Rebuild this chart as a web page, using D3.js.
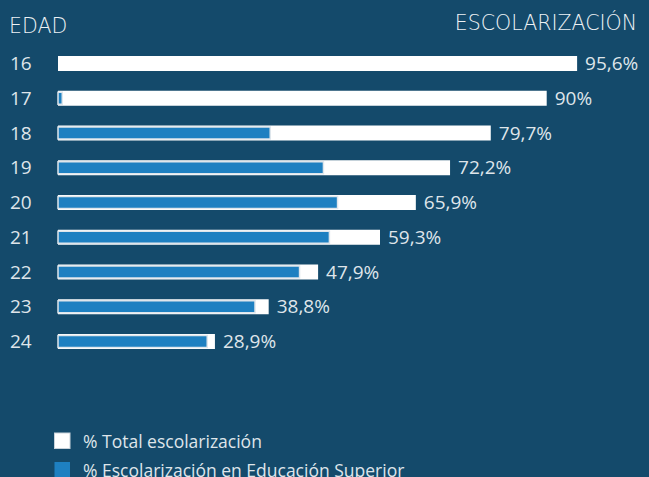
<!DOCTYPE html>
<html>
<head>
<meta charset="utf-8">
<script src="https://cdn.jsdelivr.net/npm/d3@7"></script>
<style>
body{margin:0;padding:0;background:#144a6b;}
svg{display:block;}
</style>
</head>
<body>
<div></div>
<script>
let ages = ["16","17","18","19","20","21","22","23","24"];
let totalValues = [95.6, 90, 79.7, 72.2, 65.9, 59.3, 47.9, 38.8, 28.9];
let superiorValues = [0, 0.6, 38.9, 48.7, 51.3, 49.8, 44.3, 36.1, 27.3];
let totalLabels = ["95,6%","90%","79,7%","72,2%","65,9%","59,3%","47,9%","38,8%","28,9%"];
let legendNames = ["% Total escolarización","% Escolarización en Educación Superior"];

let svgWidth = 649;
let svgHeight = 477;
let bgColor = "#144a6b";
let blueColor = "#1e80c1";
let textColor = "#dfe5ea";
let barHeight = 15;
let titleFont = "'DejaVu Sans', sans-serif";
let labelFont = "'Open Sans', sans-serif";

let svg = d3.select("body div")
    .append("svg")
    .attr("width", svgWidth)
    .attr("height", svgHeight);

// escala horizontal (porcentaje) y vertical (edad)
let x = d3.scaleLinear().domain([0, 100]).range([58, 601]);
let y = d3.scalePoint().domain(ages).range([63.5, 341.5]);

function init()
{
	svg.append("rect")
	    .attr("width", svgWidth)
	    .attr("height", svgHeight)
	    .attr("fill", bgColor);

	// titulos
	svg.append("text")
	    .attr("x", 9)
	    .attr("y", 32.8)
	    .attr("font-family", titleFont)
	    .attr("font-weight", 200)
	    .attr("font-size", 20.5)
	    .attr("fill", "#eef2f5")
	    .text("EDAD");
	svg.append("text")
	    .attr("x", 637)
	    .attr("y", 29.5)
	    .attr("text-anchor", "end")
	    .attr("font-family", titleFont)
	    .attr("font-weight", 200)
	    .attr("font-size", 20.5)
	    .attr("fill", "#eef2f5")
	    .text("ESCOLARIZACIÓN");

	drawBars();
	drawLegend();
}

function drawBars()
{
	let rows = ages.map(function(a, i){
		return {age:a, total:totalValues[i], sup:superiorValues[i], label:totalLabels[i]};
	});

	let g = svg.selectAll("g.row")
	    .data(rows)
	    .enter()
	    .append("g")
	    .attr("class", "row");

	// edad
	g.append("text")
	    .attr("x", 10)
	    .attr("y", function(d){ return y(d.age) + 6.5; })
	    .attr("font-family", labelFont)
	    .attr("font-size", 19)
	    .attr("fill", textColor)
	    .text(function(d){ return d.age; });

	// barra blanca: total
	g.append("rect")
	    .attr("x", x(0))
	    .attr("y", function(d){ return y(d.age) - barHeight/2; })
	    .attr("width", function(d){ return x(d.total) - x(0); })
	    .attr("height", barHeight)
	    .attr("fill", "#ffffff");

	// barra azul: educacion superior
	g.filter(function(d){ return d.sup > 0; })
	    .append("rect")
	    .attr("x", x(0))
	    .attr("y", function(d){ return y(d.age) - barHeight/2 + 1.5; })
	    .attr("width", function(d){ return x(d.sup) - x(0) + 1; })
	    .attr("height", barHeight - 3)
	    .attr("fill", blueColor)
	    .attr("stroke", "#dfe6ec")
	    .attr("stroke-width", 1.5);

	// etiqueta del valor
	g.append("text")
	    .attr("x", function(d){ return x(d.total) + 8; })
	    .attr("y", function(d){ return y(d.age) + 6.5; })
	    .attr("font-family", labelFont)
	    .attr("font-size", 19)
	    .attr("fill", textColor)
	    .text(function(d){ return d.label; });
}

function drawLegend()
{
	let colors = ["#ffffff", blueColor];
	for(let i = 0; i < legendNames.length; i++)
	{
		let ly = 433 + i*29;
		svg.append("rect")
		    .attr("x", 54.5)
		    .attr("y", ly)
		    .attr("width", 15.5)
		    .attr("height", 15.5)
		    .attr("fill", colors[i])
		    .attr("stroke", i == 0 ? "#c9d3db" : "none")
		    .attr("stroke-width", 1);
		svg.append("text")
		    .attr("x", 83)
		    .attr("y", ly + 14.5)
		    .attr("font-family", labelFont)
		    .attr("font-size", 17.5)
		    .attr("fill", textColor)
		    .text(legendNames[i]);
	}
}

init();
</script>
</body>
</html>
